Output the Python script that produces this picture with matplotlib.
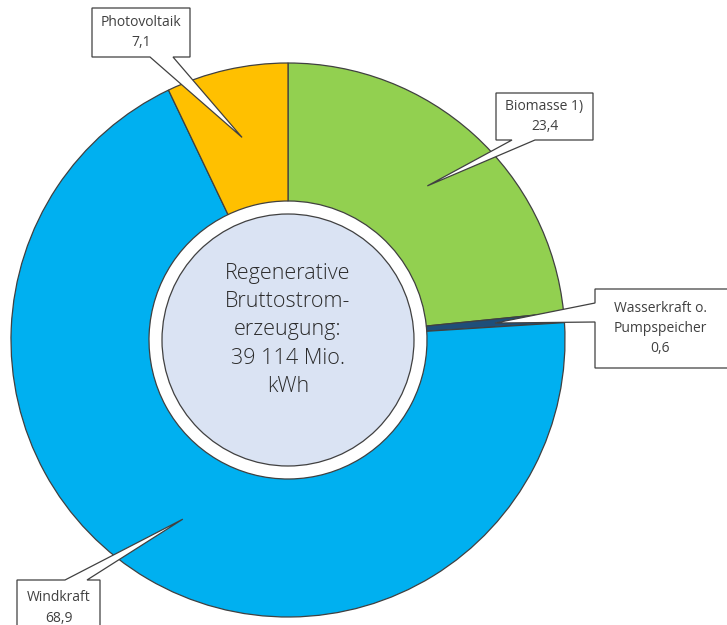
import numpy as np
import matplotlib.pyplot as plt
from matplotlib.patches import Polygon, Circle

# Anteile an der regenerativen Bruttostromerzeugung (%)
labels = ["Biomasse 1)", "Wasserkraft o.\nPumpspeicher", "Windkraft", "Photovoltaik"]
values = [23.4, 0.6, 68.9, 7.1]
value_text = ["23,4", "0,6", "68,9", "7,1"]
colors = ['#92D050', '#1F4E79', '#00B0F0', '#FFC000']
center_text = "Regenerative\nBruttostrom-\nerzeugung:\n39 114 Mio.\nkWh"

plt.rcParams['font.family'] = ['Open Sans', 'DejaVu Sans']
edge = '#404040'
txt = '#404040'

W, H = 727, 625
fig = plt.figure(figsize=(W / 100, H / 100), dpi=100)
ax = fig.add_axes([0, 0, 1, 1])

cx, cy = 288, H - 340
r_out, r_hole, r_in = 277, 139, 126

wedges, _ = ax.pie(values, radius=r_out, center=(cx, cy), startangle=90, counterclock=False,
                   colors=colors,
                   wedgeprops=dict(width=r_out - r_hole, edgecolor=edge, linewidth=0.9))

ax.add_patch(Circle((cx, cy), r_in, facecolor='#DAE3F3', edgecolor=edge, linewidth=0.9, zorder=3))
ax.text(cx, cy + 10, center_text, ha='center', va='center', fontsize=15.5,
        color='#2b2b2b', linespacing=1.45, fontweight='light', zorder=4)

# callout boxes: (x0, y0_pix, x1, y1_pix), side where the pointer leaves, base of pointer
boxes = [
    ((496, 93, 593, 140), 'bottom', (512, 535)),
    ((595, 289, 735, 368), 'left', (303, 322)),
    ((17, 580, 100, 640), 'top', (65, 87)),
    ((92, 8, 190, 57), 'bottom', (150, 173)),
]

for w, lab, val, (box, side, base) in zip(wedges, labels, value_text, boxes):
    mid = np.deg2rad((w.theta1 + w.theta2) / 2)
    tip = (cx + 0.75 * r_out * np.cos(mid), cy + 0.75 * r_out * np.sin(mid))
    x0, x1 = box[0], box[2]
    y1, y0 = H - box[1], H - box[3]
    a, b = base
    if side == 'bottom':
        pts = [(x0, y1), (x0, y0), (a, y0), tip, (b, y0), (x1, y0), (x1, y1)]
    elif side == 'top':
        pts = [(x0, y0), (x1, y0), (x1, y1), (b, y1), tip, (a, y1), (x0, y1)]
    else:
        pts = [(x0, y1), (x0, H - a), tip, (x0, H - b), (x0, y0), (x1, y0), (x1, y1)]
    ax.add_patch(Polygon(pts, closed=True, facecolor='white', edgecolor=edge,
                         linewidth=0.9, zorder=5))
    if side == 'left':
        tx = (x0 + 725) / 2
    else:
        tx = (x0 + x1) / 2
    ty = (y0 + min(y1, H)) / 2
    if side == 'top':
        ty = y1 - 28
    ax.text(tx, ty, lab + "\n" + val, ha='center', va='center', fontsize=10,
            color=txt, linespacing=1.5, zorder=6)

ax.set_xlim(0, W)
ax.set_ylim(0, H)
ax.set_aspect('auto')
ax.axis('off')

fig.savefig("out.png", dpi=100, facecolor='white')
